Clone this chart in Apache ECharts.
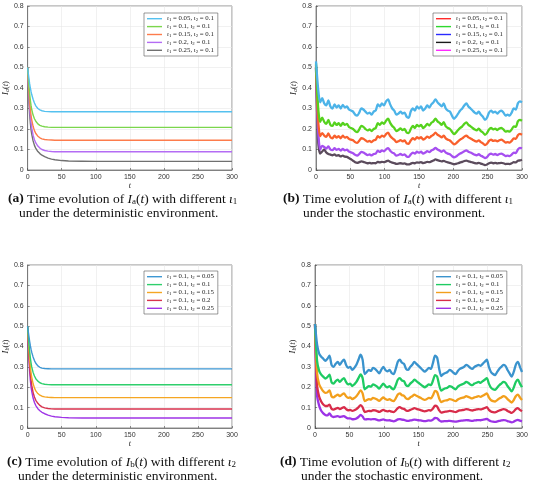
<!DOCTYPE html>
<html>
<head>
<meta charset="utf-8">
<script src="https://cdn.jsdelivr.net/npm/echarts@6/dist/echarts.min.js"></script>
<style>
  html, body { margin: 0; padding: 0; background: #fff; }
  #chart { width: 550px; height: 491px; }
</style>
</head>
<body>
<div id="chart"></div>
<script>
// time grid of the deterministic runs (denser near t = 0)
const tDet = [0, 1, 2, 3, 4, 5, 6, 8, 10, 12, 15, 18, 21, 25, 30, 35, 40, 50, 60, 80, 100, 150, 200, 250, 300]
// time grid of the stochastic runs, every 3 time units
const tSto = Array.from({ length: 101 }, (_, i) => i * 3)

const xTicks = [0, 50, 100, 150, 200, 250, 300]

// legend parameters
const iota1A = ['0.05', '0.1', '0.15', '0.2', '0.25']
const iota2A = ['0.1', '0.1', '0.1', '0.1', '0.1']
const iota1C = ['0.1', '0.1', '0.1', '0.1', '0.1']
const iota2C = ['0.05', '0.1', '0.15', '0.2', '0.25']

// (a) Ia(t), deterministic
const detA1 = [0.5, 0.47, 0.445, 0.42, 0.4, 0.383, 0.368, 0.345, 0.327, 0.313, 0.3, 0.293, 0.289, 0.286, 0.285, 0.284, 0.284, 0.284, 0.284, 0.284, 0.284, 0.284, 0.284, 0.284, 0.284]
const detA2 = [0.5, 0.45, 0.405, 0.37, 0.34, 0.315, 0.295, 0.268, 0.25, 0.238, 0.225, 0.218, 0.214, 0.211, 0.209, 0.208, 0.208, 0.208, 0.208, 0.208, 0.208, 0.208, 0.208, 0.208, 0.208]
const detA3 = [0.5, 0.43, 0.375, 0.33, 0.295, 0.267, 0.245, 0.213, 0.192, 0.178, 0.165, 0.157, 0.152, 0.149, 0.147, 0.146, 0.145, 0.145, 0.145, 0.145, 0.145, 0.145, 0.145, 0.145, 0.145]
const detA4 = [0.5, 0.415, 0.35, 0.3, 0.26, 0.23, 0.205, 0.17, 0.148, 0.132, 0.117, 0.107, 0.1, 0.095, 0.092, 0.09, 0.089, 0.089, 0.089, 0.089, 0.089, 0.089, 0.089, 0.089, 0.089]
const detA5 = [0.5, 0.4, 0.325, 0.27, 0.228, 0.197, 0.175, 0.142, 0.12, 0.105, 0.09, 0.08, 0.072, 0.065, 0.058, 0.053, 0.05, 0.046, 0.044, 0.0425, 0.042, 0.042, 0.042, 0.042, 0.042]

// (b) Ia(t), stochastic
const stoB1 = [0.53, 0.4, 0.33, 0.35, 0.325, 0.315, 0.34, 0.31, 0.3, 0.32, 0.305, 0.315, 0.3, 0.318, 0.305, 0.31, 0.295, 0.29, 0.285, 0.27, 0.265, 0.28, 0.3, 0.295, 0.285, 0.275, 0.28, 0.27, 0.285, 0.29, 0.32, 0.31, 0.325, 0.315, 0.335, 0.345, 0.32, 0.3, 0.29, 0.27, 0.275, 0.285, 0.275, 0.28, 0.26, 0.255, 0.285, 0.3, 0.29, 0.31, 0.3, 0.31, 0.29, 0.3, 0.315, 0.305, 0.32, 0.33, 0.345, 0.33, 0.32, 0.31, 0.325, 0.3, 0.29, 0.285, 0.265, 0.25, 0.26, 0.275, 0.29, 0.3, 0.315, 0.325, 0.31, 0.3, 0.29, 0.28, 0.275, 0.285, 0.27, 0.26, 0.245, 0.255, 0.28, 0.29, 0.28, 0.285, 0.275, 0.285, 0.29, 0.28, 0.265, 0.27, 0.265, 0.28, 0.3, 0.295, 0.325, 0.335, 0.33]
const stoB2 = [0.52, 0.31, 0.235, 0.255, 0.235, 0.225, 0.245, 0.22, 0.215, 0.232, 0.22, 0.228, 0.215, 0.23, 0.22, 0.225, 0.21, 0.205, 0.2, 0.19, 0.185, 0.198, 0.215, 0.21, 0.2, 0.193, 0.198, 0.19, 0.2, 0.205, 0.228, 0.22, 0.232, 0.225, 0.24, 0.25, 0.23, 0.215, 0.205, 0.19, 0.195, 0.203, 0.195, 0.2, 0.183, 0.18, 0.2, 0.215, 0.205, 0.22, 0.213, 0.22, 0.205, 0.213, 0.225, 0.217, 0.23, 0.237, 0.25, 0.237, 0.23, 0.22, 0.233, 0.213, 0.205, 0.2, 0.187, 0.175, 0.183, 0.195, 0.205, 0.213, 0.225, 0.232, 0.22, 0.213, 0.205, 0.198, 0.193, 0.202, 0.19, 0.183, 0.172, 0.18, 0.198, 0.205, 0.198, 0.202, 0.195, 0.202, 0.205, 0.198, 0.187, 0.19, 0.187, 0.198, 0.213, 0.21, 0.237, 0.245, 0.24]
const stoB3 = [0.51, 0.25, 0.165, 0.18, 0.168, 0.162, 0.178, 0.16, 0.155, 0.168, 0.158, 0.165, 0.155, 0.167, 0.158, 0.162, 0.152, 0.148, 0.145, 0.136, 0.132, 0.143, 0.155, 0.152, 0.145, 0.138, 0.142, 0.136, 0.145, 0.148, 0.165, 0.158, 0.168, 0.162, 0.175, 0.182, 0.166, 0.155, 0.148, 0.136, 0.14, 0.146, 0.14, 0.144, 0.13, 0.128, 0.144, 0.155, 0.148, 0.16, 0.154, 0.16, 0.148, 0.154, 0.163, 0.157, 0.166, 0.172, 0.182, 0.172, 0.166, 0.159, 0.168, 0.154, 0.148, 0.144, 0.134, 0.125, 0.13, 0.14, 0.148, 0.154, 0.163, 0.168, 0.159, 0.154, 0.148, 0.142, 0.139, 0.145, 0.136, 0.13, 0.122, 0.128, 0.142, 0.148, 0.142, 0.145, 0.14, 0.145, 0.148, 0.142, 0.134, 0.136, 0.134, 0.142, 0.154, 0.152, 0.17, 0.176, 0.172]
const stoB4 = [0.5, 0.2, 0.1, 0.118, 0.112, 0.105, 0.115, 0.1, 0.097, 0.106, 0.098, 0.103, 0.095, 0.103, 0.096, 0.099, 0.09, 0.086, 0.082, 0.074, 0.07, 0.078, 0.088, 0.085, 0.079, 0.073, 0.076, 0.071, 0.078, 0.08, 0.094, 0.088, 0.096, 0.091, 0.101, 0.107, 0.094, 0.085, 0.08, 0.07, 0.073, 0.078, 0.073, 0.076, 0.066, 0.064, 0.076, 0.085, 0.08, 0.089, 0.085, 0.089, 0.08, 0.085, 0.092, 0.087, 0.095, 0.1, 0.108, 0.1, 0.095, 0.089, 0.096, 0.085, 0.08, 0.077, 0.068, 0.062, 0.066, 0.074, 0.08, 0.085, 0.092, 0.096, 0.089, 0.085, 0.08, 0.075, 0.072, 0.077, 0.07, 0.065, 0.058, 0.063, 0.075, 0.08, 0.075, 0.078, 0.073, 0.078, 0.08, 0.075, 0.068, 0.07, 0.068, 0.075, 0.085, 0.083, 0.1, 0.108, 0.106]
const stoB5 = [0.5, 0.15, 0.08, 0.09, 0.1, 0.085, 0.078, 0.075, 0.072, 0.076, 0.07, 0.072, 0.066, 0.07, 0.065, 0.064, 0.058, 0.052, 0.045, 0.038, 0.035, 0.038, 0.042, 0.04, 0.036, 0.033, 0.035, 0.032, 0.034, 0.033, 0.04, 0.037, 0.04, 0.038, 0.042, 0.046, 0.04, 0.036, 0.034, 0.03, 0.031, 0.033, 0.031, 0.032, 0.028, 0.027, 0.031, 0.035, 0.033, 0.037, 0.036, 0.038, 0.034, 0.036, 0.04, 0.038, 0.042, 0.046, 0.052, 0.048, 0.045, 0.042, 0.045, 0.04, 0.037, 0.035, 0.031, 0.028, 0.03, 0.033, 0.037, 0.04, 0.044, 0.046, 0.042, 0.04, 0.037, 0.034, 0.032, 0.035, 0.031, 0.028, 0.024, 0.027, 0.033, 0.036, 0.033, 0.035, 0.032, 0.034, 0.035, 0.033, 0.029, 0.03, 0.029, 0.033, 0.038, 0.037, 0.045, 0.047, 0.05]

// (c) Ib(t), deterministic
const detC1 = [0.5, 0.472, 0.447, 0.424, 0.404, 0.387, 0.372, 0.349, 0.331, 0.318, 0.305, 0.298, 0.294, 0.292, 0.291, 0.29, 0.29, 0.29, 0.29, 0.29, 0.29, 0.29, 0.29, 0.29, 0.29]
const detC2 = [0.5, 0.452, 0.41, 0.375, 0.345, 0.32, 0.3, 0.273, 0.255, 0.242, 0.23, 0.222, 0.218, 0.215, 0.213, 0.212, 0.212, 0.212, 0.212, 0.212, 0.212, 0.212, 0.212, 0.212, 0.212]
const detC3 = [0.5, 0.433, 0.38, 0.335, 0.3, 0.272, 0.25, 0.218, 0.197, 0.182, 0.169, 0.161, 0.156, 0.153, 0.151, 0.15, 0.149, 0.149, 0.149, 0.149, 0.149, 0.149, 0.149, 0.149, 0.149]
const detC4 = [0.5, 0.418, 0.355, 0.305, 0.265, 0.235, 0.21, 0.175, 0.152, 0.136, 0.121, 0.111, 0.104, 0.099, 0.096, 0.094, 0.093, 0.093, 0.093, 0.093, 0.093, 0.093, 0.093, 0.093, 0.093]
const detC5 = [0.5, 0.403, 0.33, 0.275, 0.233, 0.202, 0.18, 0.147, 0.125, 0.11, 0.095, 0.085, 0.077, 0.07, 0.063, 0.058, 0.055, 0.052, 0.05, 0.049, 0.049, 0.049, 0.049, 0.049, 0.049]

// (d) Ib(t), stochastic
const stoD1 = [0.51, 0.41, 0.365, 0.35, 0.34, 0.33, 0.34, 0.355, 0.31, 0.3, 0.315, 0.325, 0.31, 0.325, 0.335, 0.31, 0.295, 0.3, 0.285, 0.295, 0.31, 0.335, 0.36, 0.335, 0.265, 0.275, 0.285, 0.28, 0.295, 0.29, 0.28, 0.268, 0.285, 0.3, 0.285, 0.278, 0.285, 0.27, 0.265, 0.29, 0.325, 0.335, 0.32, 0.315, 0.29, 0.285, 0.3, 0.31, 0.325, 0.315, 0.305, 0.295, 0.285, 0.277, 0.285, 0.295, 0.29, 0.32, 0.355, 0.345, 0.29, 0.255, 0.265, 0.27, 0.275, 0.285, 0.28, 0.27, 0.265, 0.28, 0.29, 0.295, 0.3, 0.31, 0.305, 0.295, 0.29, 0.3, 0.305, 0.31, 0.305, 0.315, 0.325, 0.335, 0.3, 0.275, 0.265, 0.26, 0.275, 0.29, 0.3, 0.31, 0.305, 0.285, 0.268, 0.252, 0.275, 0.31, 0.325, 0.3, 0.275]
const stoD2 = [0.51, 0.33, 0.28, 0.262, 0.252, 0.243, 0.25, 0.262, 0.225, 0.218, 0.23, 0.237, 0.226, 0.237, 0.245, 0.226, 0.214, 0.218, 0.206, 0.214, 0.226, 0.245, 0.263, 0.245, 0.19, 0.198, 0.206, 0.203, 0.214, 0.21, 0.203, 0.193, 0.206, 0.218, 0.206, 0.2, 0.206, 0.195, 0.19, 0.21, 0.237, 0.245, 0.233, 0.23, 0.21, 0.206, 0.218, 0.226, 0.237, 0.23, 0.222, 0.214, 0.206, 0.2, 0.206, 0.214, 0.21, 0.233, 0.26, 0.252, 0.21, 0.183, 0.19, 0.195, 0.198, 0.206, 0.203, 0.195, 0.19, 0.203, 0.21, 0.214, 0.218, 0.226, 0.222, 0.214, 0.21, 0.218, 0.222, 0.226, 0.222, 0.23, 0.237, 0.245, 0.218, 0.198, 0.19, 0.187, 0.198, 0.21, 0.218, 0.226, 0.222, 0.206, 0.193, 0.18, 0.198, 0.226, 0.237, 0.218, 0.2]
const stoD3 = [0.51, 0.27, 0.215, 0.195, 0.18, 0.172, 0.175, 0.185, 0.155, 0.15, 0.158, 0.164, 0.156, 0.164, 0.17, 0.156, 0.148, 0.15, 0.142, 0.147, 0.156, 0.17, 0.185, 0.17, 0.132, 0.137, 0.142, 0.14, 0.148, 0.145, 0.14, 0.133, 0.142, 0.15, 0.142, 0.138, 0.142, 0.135, 0.132, 0.145, 0.164, 0.17, 0.161, 0.158, 0.145, 0.142, 0.15, 0.156, 0.164, 0.158, 0.153, 0.148, 0.142, 0.138, 0.142, 0.148, 0.145, 0.161, 0.182, 0.176, 0.145, 0.127, 0.132, 0.135, 0.137, 0.142, 0.14, 0.135, 0.132, 0.14, 0.145, 0.148, 0.15, 0.156, 0.153, 0.148, 0.145, 0.15, 0.153, 0.156, 0.153, 0.158, 0.164, 0.17, 0.15, 0.137, 0.132, 0.13, 0.137, 0.145, 0.15, 0.156, 0.153, 0.142, 0.133, 0.125, 0.137, 0.156, 0.164, 0.15, 0.138]
const stoD4 = [0.51, 0.21, 0.155, 0.13, 0.115, 0.108, 0.108, 0.115, 0.094, 0.09, 0.095, 0.099, 0.093, 0.098, 0.102, 0.093, 0.087, 0.089, 0.084, 0.087, 0.093, 0.102, 0.112, 0.102, 0.078, 0.081, 0.084, 0.083, 0.087, 0.086, 0.083, 0.079, 0.084, 0.089, 0.084, 0.082, 0.084, 0.08, 0.078, 0.086, 0.098, 0.102, 0.096, 0.094, 0.086, 0.084, 0.089, 0.093, 0.098, 0.094, 0.091, 0.088, 0.084, 0.082, 0.084, 0.088, 0.086, 0.096, 0.11, 0.106, 0.086, 0.075, 0.078, 0.08, 0.081, 0.084, 0.083, 0.08, 0.078, 0.083, 0.086, 0.088, 0.089, 0.093, 0.091, 0.088, 0.086, 0.089, 0.091, 0.093, 0.091, 0.094, 0.098, 0.102, 0.089, 0.081, 0.078, 0.077, 0.081, 0.086, 0.089, 0.093, 0.091, 0.084, 0.079, 0.074, 0.081, 0.093, 0.098, 0.089, 0.082]
const stoD5 = [0.51, 0.16, 0.11, 0.085, 0.072, 0.064, 0.062, 0.072, 0.058, 0.054, 0.056, 0.058, 0.054, 0.056, 0.058, 0.052, 0.047, 0.047, 0.043, 0.044, 0.047, 0.054, 0.064, 0.056, 0.042, 0.043, 0.044, 0.042, 0.044, 0.043, 0.04, 0.037, 0.04, 0.042, 0.039, 0.037, 0.038, 0.035, 0.033, 0.036, 0.042, 0.044, 0.041, 0.04, 0.036, 0.035, 0.037, 0.039, 0.041, 0.04, 0.038, 0.037, 0.035, 0.034, 0.035, 0.037, 0.036, 0.041, 0.05, 0.048, 0.038, 0.032, 0.033, 0.034, 0.034, 0.035, 0.034, 0.032, 0.031, 0.033, 0.035, 0.036, 0.037, 0.039, 0.038, 0.036, 0.035, 0.037, 0.038, 0.039, 0.038, 0.04, 0.042, 0.045, 0.038, 0.033, 0.031, 0.03, 0.032, 0.035, 0.037, 0.039, 0.038, 0.034, 0.031, 0.028, 0.031, 0.037, 0.04, 0.036, 0.033]

const colorsA = ['#55c1ef', '#7bd64c', '#fd7c4c', '#b46cf4', '#707070']
const linesB = ['#4cb3e8', '#55d21d', '#f9602c', '#a64ff0', '#5b4b5c']
const legendB = ['#ff2a2a', '#2ed82e', '#2a2aff', '#1a1a1a', '#ff2aff']
const colorsC = ['#3d97d3', '#2fcf6c', '#f5a623', '#d8324e', '#9f35e6']
const colorsD = ['#3a93cd', '#1ecb62', '#f29f1c', '#d82c4a', '#9c33e6']

const sansFont = 'Liberation Sans'
const serifFont = 'Liberation Serif'

const chart = echarts.init(document.getElementById('chart'), null, { renderer: 'canvas' })

const panels = [
  { key: 'a', grid: { left: 26, top: 6, width: 206, height: 164 }, sub: 'a', t: tDet, data: [detA1, detA2, detA3, detA4, detA5], colors: colorsA, legendColors: colorsA, i1: iota1A, i2: iota2A, width: 1.4, smooth: false, legendPos: { left: 144, top: 13 } },
  { key: 'b', grid: { left: 316, top: 6, width: 206, height: 164 }, sub: 'a', t: tSto, data: [stoB1, stoB2, stoB3, stoB4, stoB5], colors: linesB, legendColors: legendB, i1: iota1A, i2: iota2A, width: 2.3, smooth: 0.25, legendPos: { left: 433, top: 13 } },
  { key: 'c', grid: { left: 26, top: 265, width: 206, height: 163 }, sub: 'b', t: tDet, data: [detC1, detC2, detC3, detC4, detC5], colors: colorsC, legendColors: colorsC, i1: iota1C, i2: iota2C, width: 1.4, smooth: false, legendPos: { left: 144, top: 271 } },
  { key: 'd', grid: { left: 315, top: 265, width: 207, height: 163 }, sub: 'b', t: tSto, data: [stoD1, stoD2, stoD3, stoD4, stoD5], colors: colorsD, legendColors: colorsD, i1: iota1C, i2: iota2C, width: 2.3, smooth: 0.25, legendPos: { left: 433, top: 271 } }
]

const mathRich = {
  i: { fontFamily: serifFont, fontStyle: 'italic', fontSize: 8.5, color: '#222' },
  s: { fontFamily: serifFont, fontStyle: 'italic', fontSize: 6, color: '#222', verticalAlign: 'bottom', padding: [3, 0, 0, 0] },
  n: { fontFamily: serifFont, fontSize: 8.5, color: '#222' }
}

const legendRich = {
  i: { fontFamily: serifFont, fontStyle: 'italic', fontSize: 6.8, color: '#222' },
  s: { fontFamily: serifFont, fontSize: 4.8, color: '#222', verticalAlign: 'bottom', padding: [2.5, 0, 0, 0] },
  n: { fontFamily: serifFont, fontSize: 6.8, color: '#222' }
}

const grids = []
const xAxes = []
const yAxes = []
const series = []
const legends = []
const labels = {}

panels.forEach((p, k) => {
  grids.push({ ...p.grid, show: true, borderColor: '#444', borderWidth: 0.6, backgroundColor: '#fff' })
  xAxes.push({
    type: 'value', gridIndex: k, min: 0, max: 300, interval: 50,
    name: 't', nameLocation: 'middle', nameGap: 11,
    nameTextStyle: { fontFamily: serifFont, fontStyle: 'italic', fontSize: 8, color: '#222' },
    axisLine: { show: true, onZero: false, lineStyle: { color: '#444', width: 0.6 } },
    axisTick: { show: true, inside: true, length: 2, lineStyle: { color: '#444', width: 0.6 } },
    axisLabel: { fontFamily: sansFont, fontSize: 7, color: '#333', margin: 4, customValues: xTicks },
    splitLine: { show: true, lineStyle: { color: '#e8e8e8', width: 0.6 } }
  })
  yAxes.push({
    type: 'value', gridIndex: k, min: 0, max: 0.8, interval: 0.1,
    name: `{i|I}{s|${p.sub}}{n|(}{i|t}{n|)}`, nameLocation: 'middle', nameGap: 15, nameRotate: 90,
    nameTextStyle: { rich: mathRich },
    axisLine: { show: true, onZero: false, lineStyle: { color: '#444', width: 0.6 } },
    axisTick: { show: true, inside: true, length: 2, lineStyle: { color: '#444', width: 0.6 } },
    axisLabel: { fontFamily: sansFont, fontSize: 7, color: '#333', margin: 4, formatter: v => String(+v.toFixed(1)) },
    splitLine: { show: true, lineStyle: { color: '#e8e8e8', width: 0.6 } }
  })
  const names = []
  p.data.forEach((vals, j) => {
    const name = p.key + j
    names.push({ name, itemStyle: { color: p.legendColors[j] } })
    labels[name] = `{i|ι}{s|1}{n| = ${p.i1[j]}, }{i|ι}{s|2}{n| = ${p.i2[j]}}`
    series.push({
      type: 'line', name, xAxisIndex: k, yAxisIndex: k,
      data: p.t.map((t, i) => [t, vals[i]]),
      showSymbol: false, symbol: 'none', smooth: p.smooth,
      lineStyle: { color: p.colors[j], width: p.width, join: 'round' },
      itemStyle: { color: p.colors[j] },
      z: 10 - j
    })
  })
  legends.push({
    ...p.legendPos, orient: 'vertical', data: names, selectedMode: false,
    icon: 'rect', itemWidth: 15, itemHeight: 1.4, itemGap: 0.5,
    backgroundColor: '#fff', borderColor: '#555', borderWidth: 0.6,
    padding: [2, 4, 2, 3],
    formatter: name => labels[name],
    textStyle: { fontFamily: serifFont, fontSize: 6.8, lineHeight: 7.4, color: '#222', rich: legendRich }
  })
})

const capRich = {
  b: { fontFamily: serifFont, fontWeight: 'bold', fontSize: 13.5, color: '#111' },
  i: { fontFamily: serifFont, fontStyle: 'italic', fontSize: 13.5, color: '#111' },
  s: { fontFamily: serifFont, fontSize: 9, color: '#111', verticalAlign: 'bottom', padding: [5, 0, 0, 0] },
  n: { fontFamily: serifFont, fontSize: 13.5, color: '#111' }
}

const captions = [
  { left: 8, top: 192, text: '{b|(a)}{n| Time evolution of }{i|I}{s|a}{n|(}{i|t}{n|) with different }{i|ι}{s|1}' },
  { left: 19, top: 206, text: '{n|under the deterministic environment.}' },
  { left: 283, top: 192, text: '{b|(b)}{n| Time evolution of }{i|I}{s|a}{n|(}{i|t}{n|) with different }{i|ι}{s|1}' },
  { left: 303, top: 206, text: '{n|under the stochastic environment.}' },
  { left: 7, top: 455, text: '{b|(c)}{n| Time evolution of }{i|I}{s|b}{n|(}{i|t}{n|) with different }{i|ι}{s|2}' },
  { left: 18, top: 469, text: '{n|under the deterministic environment.}' },
  { left: 280, top: 455, text: '{b|(d)}{n| Time evolution of }{i|I}{s|b}{n|(}{i|t}{n|) with different }{i|ι}{s|2}' },
  { left: 301, top: 469, text: '{n|under the stochastic environment.}' }
]

chart.setOption({
  animation: false,
  backgroundColor: '#fff',
  title: captions.map(c => ({
    left: c.left, top: c.top, text: c.text, padding: 0,
    textStyle: { fontFamily: serifFont, fontSize: 13.5, fontWeight: 'normal', color: '#111', rich: capRich }
  })),
  grid: grids,
  xAxis: xAxes,
  yAxis: yAxes,
  legend: legends,
  series: series
})
</script>
</body>
</html>
